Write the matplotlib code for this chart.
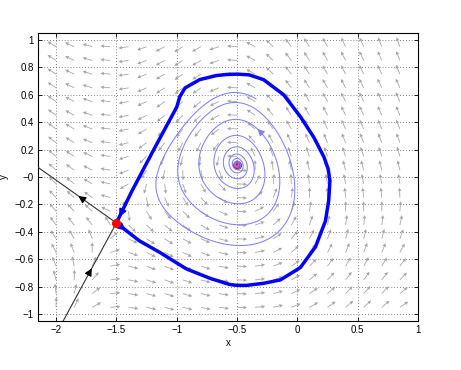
import numpy as np
import matplotlib
matplotlib.use('Agg')
import matplotlib.pyplot as plt
from matplotlib.ticker import FuncFormatter

plt.rcParams['font.family'] = ['Liberation Sans', 'DejaVu Sans']

# -----------------------------------------------------------------------------
# Values

saddle = (-1.5, -0.335)
focus = (-0.5, 0.09)
slope_stable = 1.62      # incoming separatrix direction at the saddle
slope_unstable = -0.624  # outgoing separatrix direction at the saddle
focus_trace = -0.10
spiral_turns = 8.8

# homoclinic loop, in time order (saddle -> bottom -> right -> top -> saddle)
loop_x = [-1.42, -1.31, -1.14, -0.92, -0.72, -0.56, -0.5, -0.42, -0.28, -0.14,
          0.025, 0.15, 0.233, 0.26, 0.27, 0.255, 0.22, 0.136, 0.025, -0.114,
          -0.28, -0.4, -0.5, -0.58, -0.67, -0.81, -0.93, -0.975, -1.0, -1.19, -1.37]
loop_y = [-0.39, -0.465, -0.55, -0.67, -0.74, -0.784, -0.79, -0.79, -0.775, -0.75,
          -0.66, -0.51, -0.32, -0.17, -0.025, 0.06, 0.147, 0.29, 0.44, 0.6,
          0.71, 0.745, 0.75, 0.748, 0.74, 0.71, 0.65, 0.585, 0.51, 0.2, -0.1]

# direction field samples: x, y, on-screen angle (deg)
arrow_x = [-2, -1.55, -1.1, -0.95, -0.8, -0.65, -0.5, -0.35, -0.2, -0.05, 0.05,
           0.35, 0.65, 0.85,
           -2, -1.55, -1.1, -0.8, -0.5, -0.2, 0.05, 0.35, 0.85,
           -2, -1.85, -1.55, -0.8, -0.05, 0.35, 0.85,
           -2, -1.85, -1.7, 0.35, 0.85,
           -2, -1.85, -1.7,
           -2, -1.85, -1.25, -1.1, 0.35, 0.85,
           -2, 0.85,
           -0.5, 0.35, 0.85,
           -2, -1.55, -1.4, -1.25, -0.95, -0.5, 0.05, 0.35, 0.65, 0.85]
arrow_y = [0.95] * 14 + [0.55] * 9 + [0.15] * 7 + [-0.05] * 5 + [-0.25] * 3 \
    + [-0.45] * 6 + [-0.65] * 2 + [-0.75] * 3 + [-0.95] * 10
arrow_ang = [190, 190, 197, 200, 195, 185, 180, 165, 155, 145, 130, 125, 120, 118,
             188, 190, 208, 205, 180, 155, 135, 120, 110,
             160, 172, 178, 262, 100, 95, 95,
             145, 155, 165, 90, 90,
             125, 130, 140,
             105, 110, 340, 340, 72, 80,
             95, 72,
             0, 55, 65,
             88, 40, 25, 10, 3, 3, 35, 45, 55, 60]

# quiver grid (arrow tails)
grid_x = np.arange(-2, 0.86, 0.15)
grid_y = np.arange(-0.95, 0.96, 0.1)

# where the arrowheads sit
arrow_unstable_x = -1.79
arrow_stable_x = -1.72
spiral_arrow = (-0.35, 0.31)

# -----------------------------------------------------------------------------
# Polynomial vector field fitted to the samples above


def basis(x, y):
    return np.array([np.ones_like(x), x, y, x * x, x * y, y * y, x ** 3])


def basis_dx(x, y):
    return np.array([0.0, 1.0, 0.0, 2 * x, y, 0.0, 3 * x * x])


def basis_dy(x, y):
    return np.array([0.0, 0.0, 1.0, 0.0, x, 2 * y, 0.0])


nb = 7
z = np.zeros(nb)
C, d = [], []
for pt in (saddle, focus):
    C.append(np.r_[basis(*pt), z])
    C.append(np.r_[z, basis(*pt)])
    d += [0, 0]
for m in (slope_stable, slope_unstable):
    g = basis_dx(*saddle) + m * basis_dy(*saddle)
    C.append(np.r_[-m * g, g])
    d.append(0)
C.append(np.r_[basis_dy(*saddle), z])
d.append(-1)
C.append(np.r_[basis_dx(*focus), basis_dy(*focus)])
d.append(focus_trace)
C, d = np.array(C), np.array(d, float)

lx = np.r_[saddle[0], loop_x, saddle[0]]
ly = np.r_[saddle[1], loop_y, saddle[1]]
pts, dirs, wts = [], [], []
for i in range(len(loop_x)):
    dx, dy = lx[i + 2] - lx[i], ly[i + 2] - ly[i]
    n = np.hypot(dx, dy)
    pts.append((loop_x[i], loop_y[i]))
    dirs.append((dx / n, dy / n))
    wts.append(3.0)
for x, y, a in zip(arrow_x, arrow_y, arrow_ang):
    dx, dy = np.cos(np.radians(a)) / 120, np.sin(np.radians(a)) / 136
    n = np.hypot(dx, dy)
    pts.append((x, y))
    dirs.append((dx / n, dy / n))
    wts.append(1.0)

cp = np.linalg.lstsq(C, d, rcond=None)[0]
_, sv, Vt = np.linalg.svd(C)
N = Vt[np.sum(sv > 1e-10):].T

scale = np.ones(len(pts))
for it in range(4):
    A = np.array([w / sc * np.r_[dy * basis(x, y), -dx * basis(x, y)]
                  for (x, y), (dx, dy), w, sc in zip(pts, dirs, wts, scale)])
    coef = cp + N @ np.linalg.lstsq(A @ N, -A @ cp, rcond=None)[0]
    scale = np.array([max(np.hypot(coef[:nb] @ basis(x, y),
                                   coef[nb:] @ basis(x, y)), 0.05)
                      for x, y in pts])

pc, qc = [float(v) for v in coef[:nb]], [float(v) for v in coef[nb:]]


def field(x, y):
    x2 = x * x
    P = (pc[0] + pc[1] * x + pc[2] * y + pc[3] * x2 + pc[4] * x * y
         + pc[5] * y * y + pc[6] * x2 * x)
    Q = (qc[0] + qc[1] * x + qc[2] * y + qc[3] * x2 + qc[4] * x * y
         + qc[5] * y * y + qc[6] * x2 * x)
    return P, Q


def step(x, y, h):
    k1x, k1y = field(x, y)
    k2x, k2y = field(x + 0.5 * h * k1x, y + 0.5 * h * k1y)
    k3x, k3y = field(x + 0.5 * h * k2x, y + 0.5 * h * k2y)
    k4x, k4y = field(x + h * k3x, y + h * k3y)
    return (x + h / 6 * (k1x + 2 * k2x + 2 * k3x + k4x),
            y + h / 6 * (k1y + 2 * k2y + 2 * k3y + k4y))


# spiral: traced backwards in time from next to the focus
x, y = focus[0] + 0.01, focus[1]
sx, sy = [x], [y]
prev = np.arctan2(y - focus[1], x - focus[0])
turned = 0.0
for i in range(80000):
    x, y = step(x, y, -0.01)
    sx.append(x)
    sy.append(y)
    a = np.arctan2(y - focus[1], x - focus[0])
    turned += abs((a - prev + np.pi) % (2 * np.pi) - np.pi)
    prev = a
    if turned > 2 * np.pi * spiral_turns or abs(x) > 5 or abs(y) > 5:
        break
sx, sy = np.array(sx[::-1]), np.array(sy[::-1])

# -----------------------------------------------------------------------------
# PLOT

fig = plt.figure(figsize=(4.61, 3.70), dpi=100)
ax = fig.add_axes([0.0824, 0.1324, 0.8243, 0.7784])

gx, gy = np.meshgrid(grid_x, grid_y)
U, V = field(gx, gy)
us, vs_ = U * 120, V * 136
nrm = np.hypot(us, vs_)
ax.quiver(gx, gy, us / nrm * 10 / 120, vs_ / nrm * 10 / 136,
          angles='xy', scale_units='xy', scale=1,
          color='#a6a6a6', width=0.0022, headwidth=4.5, headlength=4.5,
          headaxislength=4, zorder=2)

# separatrices outside the loop (linearised)
for m, xa, toward in ((slope_unstable, arrow_unstable_x, False),
                      (slope_stable, arrow_stable_x, True)):
    ex, ey = -1 / np.hypot(1, m), -m / np.hypot(1, m)
    ax.plot([saddle[0], saddle[0] + 3 * ex], [saddle[1], saddle[1] + 3 * ey],
            color='0.2', lw=0.8, zorder=3)
    t = (xa - saddle[0]) / ex
    px, py = saddle[0] + t * ex, saddle[1] + t * ey
    dd = -0.03 if toward else 0.03
    ax.annotate('', xy=(px + dd * ex, py + dd * ey), xytext=(px, py),
                arrowprops=dict(arrowstyle='-|>', color='black', lw=0.8,
                                mutation_scale=11, shrinkA=0, shrinkB=0),
                zorder=4)

ax.plot(focus[0], focus[1], 'o', color='red', ms=5.5, zorder=4)
ax.plot(sx, sy, color='#8080ff', lw=0.75, zorder=5)
k = np.argmin(np.hypot(sx - spiral_arrow[0], sy - spiral_arrow[1]))
ax.annotate('', xy=(sx[k + 6], sy[k + 6]), xytext=(sx[k - 6], sy[k - 6]),
            arrowprops=dict(arrowstyle='-|>', color='#8080ff', lw=0.8,
                            mutation_scale=10, shrinkA=0, shrinkB=0), zorder=5)

ax.plot(lx, ly, color='blue', lw=2.5, solid_joinstyle='round', zorder=6)
e0 = np.array([lx[1] - lx[0], ly[1] - ly[0]])
e0 = e0 / np.hypot(*e0)
ax.annotate('', xy=(saddle[0] + 0.095 * e0[0], saddle[1] + 0.095 * e0[1]),
            xytext=(saddle[0] + 0.02 * e0[0], saddle[1] + 0.02 * e0[1]),
            arrowprops=dict(arrowstyle='-|>', color='blue', lw=1.5,
                            mutation_scale=10, shrinkA=0, shrinkB=0), zorder=6)
e1 = np.array([lx[-2] - lx[-1], ly[-2] - ly[-1]])
e1 = e1 / np.hypot(*e1)
ax.annotate('', xy=(saddle[0] + 0.05 * e1[0], saddle[1] + 0.05 * e1[1]),
            xytext=(saddle[0] + 0.13 * e1[0], saddle[1] + 0.13 * e1[1]),
            arrowprops=dict(arrowstyle='-|>', color='blue', lw=1.5,
                            mutation_scale=10, shrinkA=0, shrinkB=0), zorder=6)

ax.plot(saddle[0], saddle[1], 'o', color='red', ms=5.5, zorder=7)

ax.set_xlim(-2.15, 1)
ax.set_ylim(-1.05, 1.05)
ax.set_xticks(np.arange(-2, 1.01, 0.5))
ax.set_yticks(np.round(np.arange(-1, 1.01, 0.2), 1))
fmt = FuncFormatter(lambda v, p: ('%g' % round(v, 2)).replace('-', '\u2212'))
ax.xaxis.set_major_formatter(fmt)
ax.yaxis.set_major_formatter(fmt)
ax.grid(True, linestyle=(0, (1, 2.5)), color='0.35', lw=0.6)
ax.set_axisbelow(True)
ax.tick_params(direction='in', top=True, right=True, labelsize=7, length=3,
               width=0.6, pad=3)
ax.set_xlabel('x', fontsize=7, labelpad=2)
ax.set_ylabel('y', fontsize=7, labelpad=4)

fig.savefig('out.png', dpi=100)
